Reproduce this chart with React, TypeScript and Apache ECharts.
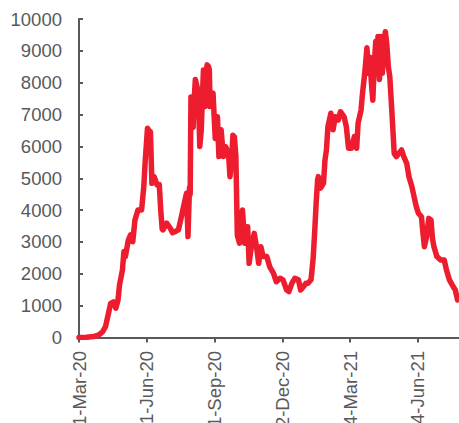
import React, { useEffect, useRef } from "react";
import * as echarts from "echarts";

// Daily new cases, sampled at the turning points of the curve
const reportDates: string[] = [
  "2020-03-01", "2020-03-11", "2020-03-21", "2020-03-28",
  "2020-04-02", "2020-04-06", "2020-04-11", "2020-04-13", "2020-04-17", "2020-04-20", "2020-04-23", "2020-04-25", "2020-04-29",
  "2020-05-01", "2020-05-03", "2020-05-07", "2020-05-10", "2020-05-13", "2020-05-16", "2020-05-20", "2020-05-25", "2020-05-28", "2020-05-30",
  "2020-06-02", "2020-06-04", "2020-06-06", "2020-06-08", "2020-06-11", "2020-06-15", "2020-06-18", "2020-06-20", "2020-06-22", "2020-06-23", "2020-06-28",
  "2020-07-03", "2020-07-06", "2020-07-09", "2020-07-14", "2020-07-18", "2020-07-23", "2020-07-25", "2020-07-27", "2020-07-29", "2020-07-30", "2020-07-31",
  "2020-08-01", "2020-08-03", "2020-08-04", "2020-08-06", "2020-08-08", "2020-08-10", "2020-08-12", "2020-08-14", "2020-08-16", "2020-08-17", "2020-08-19", "2020-08-21", "2020-08-22", "2020-08-24", "2020-08-25", "2020-08-26", "2020-08-28", "2020-08-30",
  "2020-09-02", "2020-09-05", "2020-09-07", "2020-09-10", "2020-09-13", "2020-09-16", "2020-09-20", "2020-09-22", "2020-09-24", "2020-09-26", "2020-09-28", "2020-09-30",
  "2020-10-02", "2020-10-05", "2020-10-09", "2020-10-12", "2020-10-16", "2020-10-18", "2020-10-21", "2020-10-25", "2020-10-28", "2020-10-31",
  "2020-11-03", "2020-11-06", "2020-11-11", "2020-11-15", "2020-11-20", "2020-11-24", "2020-11-29",
  "2020-12-03", "2020-12-08", "2020-12-11", "2020-12-15", "2020-12-19", "2020-12-24", "2020-12-27", "2020-12-31",
  "2021-01-03", "2021-01-06", "2021-01-10", "2021-01-11", "2021-01-13", "2021-01-15", "2021-01-17", "2021-01-19", "2021-01-20", "2021-01-23", "2021-01-27", "2021-01-29", "2021-01-31",
  "2021-02-02", "2021-02-06", "2021-02-09", "2021-02-12", "2021-02-16", "2021-02-19", "2021-02-24", "2021-02-27",
  "2021-03-02", "2021-03-06", "2021-03-10", "2021-03-13", "2021-03-15", "2021-03-19", "2021-03-21", "2021-03-24", "2021-03-27", "2021-03-29", "2021-03-31",
  "2021-04-02", "2021-04-04", "2021-04-06", "2021-04-08", "2021-04-10", "2021-04-11", "2021-04-13", "2021-04-15", "2021-04-17", "2021-04-19", "2021-04-21", "2021-04-23", "2021-04-25", "2021-04-27", "2021-04-30",
  "2021-05-03", "2021-05-06", "2021-05-09", "2021-05-13", "2021-05-16", "2021-05-20", "2021-05-23", "2021-05-27", "2021-05-30",
  "2021-06-02", "2021-06-05", "2021-06-09", "2021-06-11", "2021-06-13", "2021-06-16", "2021-06-19", "2021-06-22", "2021-06-24", "2021-06-26", "2021-06-30",
  "2021-07-05", "2021-07-10", "2021-07-13", "2021-07-17", "2021-07-22", "2021-07-25", "2021-07-28",
];

const dailyCases: number[] = [
  0, 10, 30, 80,
  180, 340, 860, 1070, 1120, 920, 1180, 1650, 2120,
  2700, 2540, 3060, 3220, 3010, 3690, 4000, 4000, 4740, 5570,
  6570, 6500, 6460, 4840, 5050, 4790, 4800, 4000, 3400, 3380, 3590,
  3430, 3290, 3320, 3380, 3790, 4320, 4530, 3170, 4700, 4500, 7550,
  7400, 6600, 7300, 8100, 7900, 7700, 6000, 6500, 7800, 8400, 7250, 8400, 8560, 8500, 8400, 7250, 7500, 7670,
  6250, 6930, 5680, 6520, 5680, 5990, 5780, 5050, 5500, 6350, 6300, 5700,
  3200, 2960, 4000, 2960, 3480, 2330, 2850, 3270, 2850, 2330,
  2850, 2540, 2540, 2220, 2020, 1750, 1860,
  1810, 1490, 1440, 1700, 1860, 1810, 1490, 1600,
  1700, 1700, 1810, 2020, 2500, 3300, 4200, 4950, 5050, 4690, 4840, 5570, 5890,
  6620, 7040, 6520, 6930, 6830, 7090, 6930, 6620,
  5940, 5940, 6310, 5940, 6730, 7140, 7670, 8300, 9100, 8300, 8800,
  8000, 7450, 8600, 9300, 8700, 9450, 8100, 9450, 8300, 9300, 9600, 9200, 8500, 8200, 7040,
  5780, 5680, 5780, 5890, 5680, 5470, 5050, 4740, 4420,
  4110, 3900, 3790, 3300, 2850, 3170, 3740, 3690, 3100, 2850, 2540,
  2430, 2430, 2120, 1810, 1600, 1490, 1180,
];

// Axis settings: x is days since the start date, ticks every 92 days
const startDate = "2020-03-01";
const tickDays: number[] = [0, 92, 184, 276, 368, 460];
const lastDay = 516;
const yTicks = { min: 0, max: 10000, step: 1000 };

const monthNames = ["Jan", "Feb", "Mar", "Apr", "May", "Jun", "Jul", "Aug", "Sep", "Oct", "Nov", "Dec"];
const DAY_MS = 86400000;

function toUtc(d: string): number {
  const [y, m, day] = d.split("-").map(Number);
  return Date.UTC(y, m - 1, day);
}

function dayLabel(offset: number): string {
  const d = new Date(toUtc(startDate) + offset * DAY_MS);
  const yy = String(d.getUTCFullYear() % 100).padStart(2, "0");
  return `${d.getUTCDate()}-${monthNames[d.getUTCMonth()]}-${yy}`;
}

const AXIS_GREY = "#595959";
const FONT = "'Liberation Sans', Arial, sans-serif";
const FONT_SIZE = 18.5;

export default function App() {
  const ref = useRef<HTMLDivElement>(null);

  useEffect(() => {
    if (!ref.current) return;
    const chart = echarts.init(ref.current, undefined, { renderer: "svg" });
    const start = toUtc(startDate);
    const points = reportDates.map((d, i) => [
      Math.round((toUtc(d) - start) / DAY_MS),
      dailyCases[i],
    ]);

    chart.setOption({
      animation: false,
      backgroundColor: "#ffffff",
      grid: {
        left: 79,
        right: 0,
        top: 19,
        bottom: 85.5,
        containLabel: false,
        outerBoundsMode: "none",
      },
      xAxis: {
        type: "value",
        min: 0,
        max: lastDay,
        interval: 92,
        splitLine: { show: false },
        axisLine: { show: true, lineStyle: { color: AXIS_GREY, width: 2 } },
        axisTick: {
          show: true,
          inside: false,
          length: 5,
          customValues: tickDays,
          lineStyle: { color: AXIS_GREY, width: 2 },
        },
        axisLabel: {
          rotate: 90,
          margin: 13.5,
          customValues: tickDays,
          color: AXIS_GREY,
          fontFamily: FONT,
          fontSize: FONT_SIZE,
          formatter: (v: number) => dayLabel(v),
        },
      },
      yAxis: {
        type: "value",
        min: yTicks.min,
        max: yTicks.max,
        interval: yTicks.step,
        splitLine: { show: false },
        axisLine: { show: true, lineStyle: { color: AXIS_GREY, width: 2 } },
        axisTick: { show: true, inside: true, length: 4, lineStyle: { color: AXIS_GREY, width: 2 } },
        axisLabel: {
          margin: 17,
          color: AXIS_GREY,
          fontFamily: FONT,
          fontSize: FONT_SIZE,
          formatter: (v: number) => String(v),
        },
      },
      series: [
        {
          type: "line",
          data: points,
          showSymbol: false,
          symbol: "none",
          lineStyle: { color: "#ED1C2E", width: 5.5, join: "round", cap: "round" },
        },
      ],
    });

    return () => chart.dispose();
  }, []);

  return (
    <div
      ref={ref}
      style={{ position: "fixed", left: 0, top: 0, width: 459, height: 423, background: "#fff" }}
    />
  );
}
